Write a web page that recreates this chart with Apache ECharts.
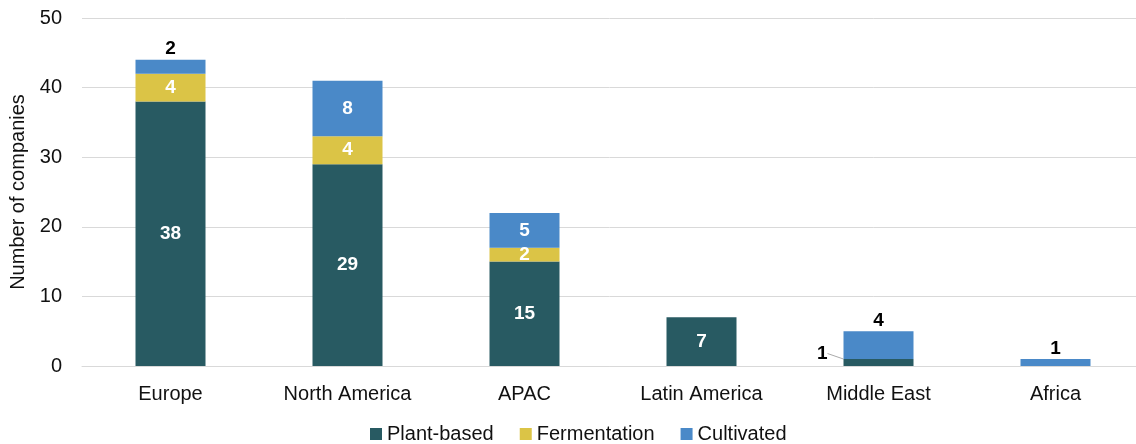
<!DOCTYPE html>
<html><head><meta charset="utf-8">
<script src="https://cdn.jsdelivr.net/npm/echarts@6/dist/echarts.min.js"></script>
<style>html,body{margin:0;padding:0;background:#fff}#c{width:1136px;height:444px}</style>
</head><body><div id="c"></div>
<script>
const categories = ['Europe', 'North America', 'APAC', 'Latin America', 'Middle East', 'Africa'];
const plantBased = [38, 29, 15, 7, 1, 0];
const fermentation = [4, 4, 2, 0, 0, 0];
const cultivated = [2, 8, 5, 0, 4, 1];
const yTicks = [0, 10, 20, 30, 40, 50];

const FONT = 'Liberation Sans';
const inside = {show: true, position: 'inside', color: '#fff', fontWeight: 'bold', fontSize: 19, fontFamily: FONT};
const outside = {show: true, position: 'top', color: '#000', fontWeight: 'bold', fontSize: 19, fontFamily: FONT, distance: 1};

const plantData = plantBased.map((v, i) => {
  if (v === 0) return {value: v, label: {show: false}};
  if (v < 3) return {value: v, label: {show: true, position: 'left', color: '#000', fontWeight: 'bold', fontSize: 19, fontFamily: FONT, distance: 4}};
  return {value: v};
});
const fermData = fermentation.map(v => v === 0 ? {value: v, label: {show: false}} : {value: v});
const cultData = cultivated.map((v, i) => {
  if (v === 0) return {value: v, label: {show: false}};
  if (i >= 4 || v < 3) return {value: v, label: outside};
  return {value: v};
});

const chart = echarts.init(document.getElementById('c'));
chart.setOption({
  animation: false,
  grid: {left: 82, right: -8, top: 18, bottom: 78, containLabel: false, outerBoundsMode: 'none'},
  legend: {
    bottom: -5, left: 365, itemWidth: 12, itemHeight: 12, itemGap: 26,
    icon: 'rect',
    textStyle: {fontSize: 20, color: '#111', fontFamily: FONT},
    data: ['Plant-based', 'Fermentation', 'Cultivated']
  },
  xAxis: {
    type: 'category', data: categories,
    axisLine: {lineStyle: {color: '#d9d9d9'}}, axisTick: {show: false},
    axisLabel: {fontSize: 20, color: '#111', fontFamily: FONT, margin: 18}
  },
  yAxis: {
    type: 'value', min: 0, max: 50, interval: 10,
    name: 'Number of companies', nameLocation: 'middle', nameGap: 53, nameRotate: 90,
    nameTextStyle: {fontSize: 20, color: '#111', fontFamily: FONT},
    axisLabel: {fontSize: 20, color: '#111', fontFamily: FONT, margin: 20,
      formatter: v => yTicks.includes(v) ? String(v) : ''},
    splitLine: {lineStyle: {color: '#d9d9d9'}}
  },
  series: [
    {name: 'Plant-based', type: 'bar', stack: 's', barWidth: 70, data: plantData,
      itemStyle: {color: '#285A62'}, label: inside,
      labelLayout: function (p) {
        if (plantBased[p.dataIndex] < 3) return {dx: -12, dy: -9};
        return {};
      },
      labelLine: {show: true, length2: 0, lineStyle: {color: '#aaa', width: 1}}},
    {name: 'Fermentation', type: 'bar', stack: 's', barWidth: 70, data: fermData,
      itemStyle: {color: '#DBC446'}, label: inside},
    {name: 'Cultivated', type: 'bar', stack: 's', barWidth: 70, data: cultData,
      itemStyle: {color: '#4A89C8'}, label: inside}
  ]
});
</script></body></html>
